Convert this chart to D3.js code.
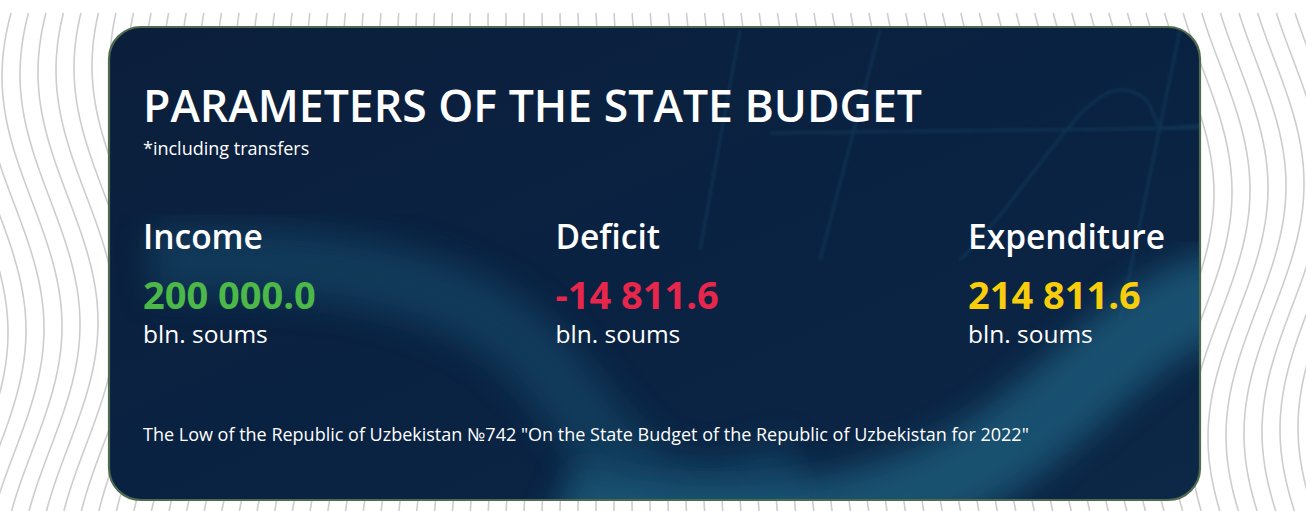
<!DOCTYPE html>
<html><head><meta charset="utf-8">
<script src="https://cdn.jsdelivr.net/npm/d3@7/dist/d3.min.js"></script>
<style>html,body{margin:0;padding:0;background:#fff;overflow:hidden}svg{display:block}</style>
</head><body>
<svg id="c" width="1306" height="511"></svg>
<script>
// ---- data ----
const title = "PARAMETERS OF THE STATE BUDGET";
const subtitle = "*including transfers";
const categories = ["Income", "Deficit", "Expenditure"];
const values = [200000.0, -14811.6, 214811.6];
const unitLabel = "bln. soums";
const footnote = "The Low of the Republic of Uzbekistan №742 \"On the State Budget of the Republic of Uzbekistan for 2022\"";

// ---- styles ----
const valueColors = ["#4cb848", "#e8264b", "#f7cd0c"];
const W = 1306, H = 511;
const card = {x: 109, y: 27, w: 1091, h: 473, r: 32};
const font = "'Open Sans', 'Noto Sans', sans-serif";

const svg = d3.select("#c");
const defs = svg.append("defs");

// ---- background contour pattern ----
const bg = svg.append("g").attr("fill", "none").attr("stroke", "#cdcdcd").attr("stroke-width", 1.6);
const spacing = 18;
const ys = d3.range(13, H + 2, 3);
const line = d3.line().curve(d3.curveBasis);
for (let x0 = -40; x0 < W + 60; x0 += spacing) {
  const t = x0 / W;
  const yMax = 330 - 150 * t;
  const amp = 30;
  const pts = ys.map(y => [x0 + amp * Math.cos(2 * Math.PI * (y - yMax) / 500), y]);
  bg.append("path").attr("d", line(pts));
}

// ---- card ----
defs.append("clipPath").attr("id", "cardClip").append("rect")
  .attr("x", card.x).attr("y", card.y).attr("width", card.w).attr("height", card.h).attr("rx", card.r);
const lg = defs.append("linearGradient").attr("id", "cardGrad").attr("x1", 0).attr("y1", 0).attr("x2", 1).attr("y2", 1);
lg.append("stop").attr("offset", 0).attr("stop-color", "#0b1f3b");
lg.append("stop").attr("offset", 0.5).attr("stop-color", "#0a2242");
lg.append("stop").attr("offset", 1).attr("stop-color", "#0d2746");
const blur = defs.append("filter").attr("id", "blur").attr("x", "-20%").attr("y", "-20%").attr("width", "140%").attr("height", "140%");
blur.append("feGaussianBlur").attr("stdDeviation", 16);
const blur2 = defs.append("filter").attr("id", "blur2");
blur2.append("feGaussianBlur").attr("stdDeviation", 1.5);

const cg = svg.append("g").attr("clip-path", "url(#cardClip)");
cg.append("rect").attr("x", card.x).attr("y", card.y).attr("width", card.w).attr("height", card.h).attr("fill", "url(#cardGrad)");
// broad light band
cg.append("path")
  .attr("d", "M 150,262 C 330,255 470,280 540,360 S 640,540 800,470")
  .attr("fill", "none").attr("stroke", "#174e6e").attr("stroke-width", 70).attr("opacity", 0.55)
  .attr("filter", "url(#blur)");
cg.append("path")
  .attr("d", "M 560,500 C 700,560 900,520 1000,450 S 1130,320 1230,290")
  .attr("fill", "none").attr("stroke", "#1c5b7b").attr("stroke-width", 85).attr("opacity", 0.8)
  .attr("filter", "url(#blur)");
// faint thin lines
const thin = cg.append("g").attr("fill", "none").attr("stroke", "#1c6282").attr("stroke-width", 2.5).attr("opacity", 0.3).attr("filter", "url(#blur2)");
thin.append("path").attr("d", "M 770,133 L 1200,128");
thin.append("path").attr("d", "M 960,260 C 1030,190 1080,90 1120,90 C 1160,90 1150,130 1165,128 L 1205,125");
thin.append("path").attr("d", "M 1180,30 L 1120,320");
thin.append("path").attr("d", "M 880,30 L 820,260");
thin.append("path").attr("d", "M 740,30 L 700,250");

svg.append("rect").attr("x", card.x).attr("y", card.y).attr("width", card.w).attr("height", card.h).attr("rx", card.r)
  .attr("fill", "none").attr("stroke", "#4f6b4f").attr("stroke-width", 2.2);

// ---- text ----
svg.append("text").attr("x", 143).attr("y", 122).attr("fill", "#fff")
  .attr("font-family", font).attr("font-size", 46).attr("font-weight", 600)
  .attr("textLength", 779).attr("lengthAdjust", "spacingAndGlyphs").text(title);
svg.append("text").attr("x", 143).attr("y", 155).attr("fill", "#fff")
  .attr("font-family", font).attr("font-size", 18).text(subtitle);

const xScale = d3.scalePoint().domain(categories).range([143, 968]);
const fmt = d3.formatLocale({decimal: ".", thousands: " ", grouping: [3], currency: ["", ""], minus: "-"}).format(",.1f");

const cols = svg.append("g").selectAll("g").data(categories).join("g")
  .attr("transform", d => `translate(${xScale(d)},0)`);
cols.append("text").attr("y", 249).attr("fill", "#fff").attr("font-family", font)
  .attr("font-size", 33.5).attr("font-weight", 600).text(d => d);
cols.append("text").attr("y", 309).attr("fill", (d, i) => valueColors[i]).attr("font-family", font)
  .attr("font-size", 38).attr("font-weight", 700).text((d, i) => fmt(values[i]));
cols.append("text").attr("y", 343).attr("fill", "#fff").attr("font-family", font)
  .attr("font-size", 24.5).text(unitLabel);

svg.append("text").attr("x", 143).attr("y", 441).attr("fill", "#fff")
  .attr("font-family", font).attr("font-size", 18).text(footnote);
</script>
</body></html>
